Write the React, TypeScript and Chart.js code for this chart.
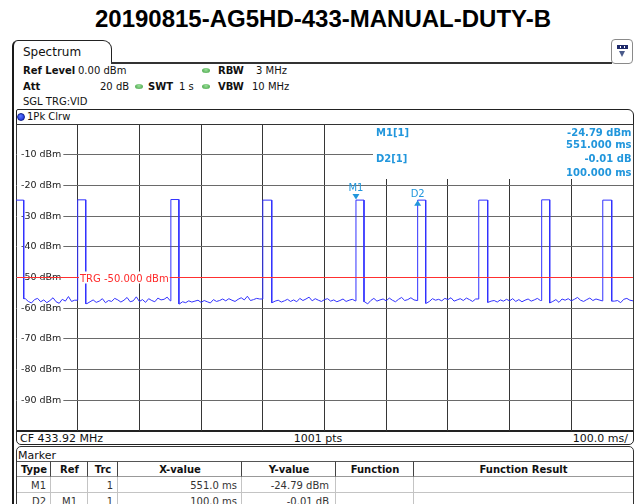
import React, { useEffect, useRef } from "react";
import { Chart, registerables } from "chart.js";

Chart.register(...registerables);

// ---------------- data ----------------
const TITLE = "20190815-AG5HD-433-MANUAL-DUTY-B";
const SWEEP_START_MS = 0;
const SWEEP_END_MS = 1000;
const MS_PER_DIV = 100;
const REF_LEVEL_DBM = 0;
const BOTTOM_DBM = -100;
const DB_PER_DIV = 10;
const TRG_LEVEL_DBM = -50;

const pulseStartMs = [0, 100, 251, 400, 551, 651, 750, 852, 951];
const pulseEndMs = [12.5, 113, 264, 414.5, 564, 664, 764.5, 865, 965.5];
const pulseTopDbm = [-24.8, -24.7, -24.6, -24.8, -24.79, -24.8, -24.8, -24.7, -24.8];

const NOISE_STEP_MS = 5;
const noiseDbm = [
  -57.6, -58.1, -57.4, -56.9, -57.8, -58.3, -57.2, -56.8, -57.9, -57.3,
  -58.2, -57.5, -56.6, -57.9, -58.4, -57.1, -57.7, -56.2, -57.8, -57.4,
  -58.0, -57.6, -57.2, -58.5, -57.9, -57.3, -58.1, -57.7, -56.9, -58.2,
  -57.5, -57.8, -56.8, -57.3, -58.0, -57.4, -56.5, -57.9, -57.6, -56.3,
  -57.8, -57.2, -58.1, -56.9, -57.5, -57.9, -56.7, -57.3, -57.1, -56.4,
  -57.6, -58.3, -57.8, -58.6, -57.9, -58.2, -57.6, -58.0, -57.7, -57.4,
  -58.1, -57.5, -57.9, -58.3, -57.2, -57.8, -57.5, -57.0, -57.6, -56.9,
  -57.4, -57.8, -57.1, -56.6, -57.3, -56.1, -57.5, -57.2, -56.8, -57.0,
  -57.5, -57.9, -57.3, -58.2, -57.7, -57.4, -58.0, -57.6, -57.1, -57.8,
  -57.3, -57.9, -56.8, -57.5, -57.0, -56.4, -57.6, -56.9, -57.4, -57.8,
  -57.2, -56.9, -57.7, -57.3, -57.9, -57.5, -57.0, -57.8, -57.4, -57.1,
  -57.6, -58.0, -57.4, -57.9, -58.6, -57.5, -56.8, -57.7, -57.3, -57.0,
  -57.6, -56.7, -57.4, -57.9, -57.1, -56.5, -57.5, -57.2, -56.6, -57.3,
  -57.5, -57.9, -57.3, -58.4, -57.8, -56.9, -57.4, -57.1, -57.6, -56.8,
  -57.2, -56.6, -57.7, -57.3, -56.9, -57.5, -56.7, -57.2, -57.8, -57.0,
  -57.4, -57.9, -57.2, -58.1, -57.7, -57.5, -58.0, -57.3, -57.7, -57.1,
  -57.6, -56.9, -57.8, -57.2, -57.9, -57.4, -57.0, -57.7, -57.3, -56.8,
  -57.5, -58.0, -57.4, -58.3, -57.8, -57.2, -58.1, -57.0, -57.4, -56.9,
  -57.6, -57.1, -56.5, -57.4, -57.8, -57.2, -56.7, -57.5, -57.0, -57.3,
  -57.6, -58.1, -57.3, -58.0, -57.7, -57.5, -58.2, -57.1, -56.8, -57.4,
  -57.6,
];

const markerNames = ["M1", "D2"];
const markerKinds = ["normal", "delta"];
const markerXms = [551, 651];
const markerYdbm = [-24.79, -24.8];

const readoutNames = ["M1[1]", "D2[1]"];
const readoutLevel = ["-24.79 dBm", "-0.01 dB"];
const readoutTime = ["551.000 ms", "100.000 ms"];

const tableHeaders = ["Type", "Ref", "Trc", "X-value", "Y-value", "Function", "Function Result"];
const tableType = ["M1", "D2"];
const tableRef = ["", "M1"];
const tableTrc = ["1", "1"];
const tableX = ["551.0 ms", "100.0 ms"];
const tableY = ["-24.79 dBm", "-0.01 dB"];

// ---------------- styling ----------------
const FONT = "DejaVu Sans";
const CYAN = "#2196dc";
const TRACE = "#3232ff";

function buildTrace() {
  const pts: { x: number; y: number }[] = [];
  let p = 0;
  for (let i = 0; i < noiseDbm.length; i++) {
    const t = SWEEP_START_MS + i * NOISE_STEP_MS;
    while (p < pulseStartMs.length && pulseStartMs[p] <= t) {
      const s = pulseStartMs[p];
      const e = pulseEndMs[p];
      const lv = pulseTopDbm[p];
      if (pts.length) pts.push({ x: s, y: pts[pts.length - 1].y });
      pts.push({ x: s, y: lv });
      pts.push({ x: e, y: lv });
      const nextIdx = Math.ceil((e - SWEEP_START_MS) / NOISE_STEP_MS);
      if (nextIdx < noiseDbm.length) pts.push({ x: e, y: noiseDbm[nextIdx] });
      p++;
    }
    const inside = pulseStartMs.some((s, k) => t >= s && t <= pulseEndMs[k]);
    if (!inside) pts.push({ x: t, y: noiseDbm[i] });
  }
  return pts;
}

const overlayPlugin = {
  id: "overlay",
  beforeDatasetsDraw(chart: any) {
    const { ctx, chartArea: a } = chart;
    ctx.save();
    const bx = a.right - 260;
    ctx.fillStyle = "#fff";
    ctx.fillRect(bx, a.top + 1, a.right - bx, 54);
    ctx.fillStyle = CYAN;
    ctx.font = `bold 10px "${FONT}"`;
    ctx.textBaseline = "alphabetic";
    const base = [a.top + 12, a.top + 24, a.top + 38, a.top + 52];
    readoutNames.forEach((n, i) => {
      ctx.textAlign = "left";
      ctx.fillText(n, bx + 3, base[i * 2]);
      ctx.textAlign = "right";
      ctx.fillText(readoutLevel[i], a.right - 1.5, base[i * 2]);
      ctx.fillText(readoutTime[i], a.right - 1.5, base[i * 2 + 1]);
    });
    ctx.restore();
  },
  afterDatasetsDraw(chart: any) {
    const { ctx, chartArea: a, scales } = chart;
    const x = scales.x;
    const y = scales.y;
    ctx.save();
    const ty = Math.floor(y.getPixelForValue(TRG_LEVEL_DBM)) + 0.5;
    ctx.strokeStyle = "#ff3030";
    ctx.lineWidth = 1;
    ctx.beginPath();
    ctx.moveTo(a.left + 1, ty);
    ctx.lineTo(a.right, ty);
    ctx.stroke();
    ctx.font = `10px "${FONT}"`;
    const label = `TRG ${TRG_LEVEL_DBM.toFixed(3)} dBm`;
    const tx = a.left + 64;
    const w = ctx.measureText(label).width;
    ctx.fillStyle = "#fff";
    ctx.fillRect(tx - 1, ty - 6, w + 2, 12);
    ctx.fillStyle = "#ff2a2a";
    ctx.textAlign = "left";
    ctx.textBaseline = "alphabetic";
    ctx.fillText(label, tx, ty + 4);

    markerNames.forEach((n, i) => {
      const px = x.getPixelForValue(markerXms[i]);
      const py = y.getPixelForValue(markerYdbm[i]);
      ctx.fillStyle = CYAN;
      ctx.beginPath();
      if (markerKinds[i] === "normal") {
        ctx.moveTo(px - 3.5, py - 6);
        ctx.lineTo(px + 3.5, py - 6);
        ctx.lineTo(px, py - 0.5);
      } else {
        ctx.moveTo(px - 3.5, py + 5.5);
        ctx.lineTo(px + 3.5, py + 5.5);
        ctx.lineTo(px, py);
      }
      ctx.closePath();
      ctx.fill();
      ctx.font = `10px "${FONT}"`;
      ctx.textAlign = "center";
      ctx.fillText(n, px, markerKinds[i] === "normal" ? py - 9.3 : py - 3.5);
    });
    ctx.restore();
  },
};

function T(props: any) {
  const { x, y, s = 10, b = false, c = "#111", align = "left", ff = FONT, children } = props;
  const style: any = {
    position: "absolute",
    top: y - 0.846 * s,
    fontSize: s,
    lineHeight: `${s}px`,
    fontFamily: ff,
    fontWeight: b ? "bold" : "normal",
    color: c,
    whiteSpace: "nowrap",
  };
  if (align === "left") style.left = x;
  else if (align === "right") style.right = 636 - x;
  else {
    style.left = x;
    style.transform = "translateX(-50%)";
  }
  return <div style={style}>{children}</div>;
}

const box = (o: any): any => ({ position: "absolute", boxSizing: "border-box", ...o });

function Dot({ cx, cy }: { cx: number; cy: number }) {
  return (
    <div
      style={box({
        left: cx - 4,
        top: cy - 2.5,
        width: 8,
        height: 5,
        borderRadius: "50%",
        background: "radial-gradient(circle at 50% 35%, #9be09b, #3f9e3f)",
      })}
    />
  );
}

const colEdges = [17, 51, 88, 118, 242, 336, 414, 633];

export default function App() {
  const ref = useRef<HTMLCanvasElement | null>(null);

  useEffect(() => {
    if (!ref.current) return;
    const chart = new Chart(ref.current, {
      type: "line",
      data: {
        datasets: [
          {
            data: buildTrace(),
            borderColor: TRACE,
            borderWidth: 1,
            pointRadius: 0,
            tension: 0,
            fill: false,
          },
        ],
      },
      options: {
        animation: false,
        responsive: false,
        devicePixelRatio: 1,
        events: [],
        layout: { padding: { left: 16, top: 124, right: 3, bottom: 73 } },
        plugins: { legend: { display: false }, tooltip: { enabled: false } },
        scales: {
          x: {
            type: "linear",
            min: SWEEP_START_MS,
            max: SWEEP_END_MS,
            ticks: { stepSize: MS_PER_DIV, display: false },
            grid: { color: "#363636", drawTicks: false, lineWidth: 1 },
            border: { display: false },
            afterFit: (s: any) => {
              s.height = 0;
            },
          },
          y: {
            type: "linear",
            min: BOTTOM_DBM,
            max: REF_LEVEL_DBM,
            afterBuildTicks: (s: any) => {
              s.ticks = s.ticks.filter((t: any) => t.value > BOTTOM_DBM && t.value < REF_LEVEL_DBM);
            },
            ticks: {
              stepSize: DB_PER_DIV,
              mirror: true,
              padding: 5,
              color: "#1a1a1a",
              font: { family: FONT, size: 9.5 },
              showLabelBackdrop: true,
              backdropColor: "#ffffff",
              backdropPadding: { left: 4, right: 2, top: 0, bottom: 0 },
              callback: (v: any) => `${v} dBm`,
            },
            grid: { color: "#6a6a6a", drawTicks: false, lineWidth: 1 },
            border: { display: false },
            afterFit: (s: any) => {
              s.width = 0;
            },
          },
        },
      } as any,
      plugins: [overlayPlugin],
    });
    return () => chart.destroy();
  }, []);

  return (
    <div
      style={{
        position: "fixed",
        left: 0,
        top: 0,
        width: 636,
        height: 504,
        background: "#fff",
        overflow: "hidden",
        fontFamily: FONT,
      }}
    >
      {/* title */}
      <div
        style={box({
          left: 5,
          top: 27 - 0.846 * 24,
          width: 636,
          textAlign: "center",
          fontFamily: "Liberation Sans, Arial, sans-serif",
          fontWeight: "bold",
          fontSize: 24,
          lineHeight: "24px",
          color: "#000",
          whiteSpace: "nowrap",
        })}
      >
        {TITLE}
      </div>

      {/* tab + header frame */}
      <div
        style={box({
          left: 12,
          top: 40,
          width: 100,
          height: 24,
          borderTop: "1.5px solid #222",
          borderLeft: "2px solid #1a1a1a",
          borderRight: "1.5px solid #222",
          borderRadius: "6px 9px 0 0",
        })}
      />
      <div style={box({ left: 111, top: 62, width: 501, height: 1.5, background: "#333" })} />
      <div style={box({ left: 12, top: 48, width: 2, height: 460, background: "#1a1a1a" })} />
      <T x={23} y={56} s={12}>Spectrum</T>

      {/* icon */}
      <div
        style={box({
          left: 611,
          top: 39,
          width: 22,
          height: 25,
          border: "1px solid #8a8a8a",
          borderRadius: 4,
          background: "#fff",
        })}
      />
      <div style={box({ left: 617, top: 45, width: 11, height: 4, background: "#1f2a6a" })} />
      <div style={box({ left: 620, top: 46, width: 1, height: 2, background: "#fff" })} />
      <div style={box({ left: 624, top: 46, width: 1, height: 2, background: "#fff" })} />
      <div
        style={box({
          left: 619,
          top: 51,
          width: 0,
          height: 0,
          borderLeft: "3.5px solid transparent",
          borderRight: "3.5px solid transparent",
          borderTop: "6px solid #4a5a8a",
        })}
      />

      {/* settings */}
      <T x={23} y={74.3} b>Ref Level</T>
      <T x={78} y={74.3}>0.00 dBm</T>
      <Dot cx={206} cy={70.8} />
      <T x={218} y={74.3} b>RBW</T>
      <T x={256} y={74.3}>3 MHz</T>

      <T x={23} y={90.3} b>Att</T>
      <T x={100} y={90.3}>20 dB</T>
      <Dot cx={139} cy={86.6} />
      <T x={148} y={90.3} b>SWT</T>
      <T x={179} y={90.3}>1 s</T>
      <Dot cx={206} cy={86.6} />
      <T x={218} y={90.3} b>VBW</T>
      <T x={252} y={90.3}>10 MHz</T>

      <T x={23} y={105.3}>SGL TRG:VID</T>

      {/* trace window frame */}
      <div
        style={box({
          left: 16,
          top: 109,
          width: 618,
          height: 336,
          border: "1px solid #222",
          borderRadius: "2px 6px 5px 5px",
        })}
      />
      <div style={box({ left: 16, top: 124, width: 618, height: 1, background: "#333" })} />
      <div style={box({ left: 16, top: 430, width: 618, height: 1.5, background: "#222" })} />
      <div
        style={box({
          left: 17,
          top: 112.5,
          width: 8,
          height: 8,
          borderRadius: "50%",
          background: "radial-gradient(circle at 40% 35%, #5a78ff, #1020d0)",
          border: "1px solid #10208a",
        })}
      />
      <T x={27} y={120}>1Pk Clrw</T>

      <T x={20} y={442.3} s={11}>CF 433.92 MHz</T>
      <T x={318} y={442.3} s={11} align="center">1001 pts</T>
      <T x={628} y={442.3} s={11} align="right">100.0 ms/</T>

      {/* marker table */}
      <div
        style={box({
          left: 16,
          top: 446,
          width: 618,
          height: 80,
          border: "1px solid #333",
          borderRadius: "5px 5px 0 0",
        })}
      />
      <T x={18} y={459.5} s={11}>Marker</T>
      {tableHeaders.map((h, i) => (
        <div
          key={"h" + i}
          style={box({
            left: colEdges[i],
            top: 461,
            width: colEdges[i + 1] - colEdges[i],
            height: 16,
            borderTop: "1px solid #555",
            borderBottom: "1px solid #999",
            borderRight: i < tableHeaders.length - 1 ? "1px solid #444" : "none",
          })}
        />
      ))}
      {tableHeaders.map((h, i) => (
        <T key={"ht" + i} x={(colEdges[i] + colEdges[i + 1]) / 2} y={473} b align="center" c="#111">
          {h}
        </T>
      ))}
      {tableType.map((_, r) =>
        tableHeaders.map((__, i) => (
          <div
            key={"c" + r + "-" + i}
            style={box({
              left: colEdges[i],
              top: 477 + r * 16,
              width: colEdges[i + 1] - colEdges[i],
              height: 16,
              borderBottom: "1px solid #c4c4c4",
              borderRight: i < tableHeaders.length - 1 ? "1px solid #c4c4c4" : "none",
            })}
          />
        ))
      )}
      {tableType.map((t, r) => {
        const by = 489.3 + r * 16;
        return (
          <React.Fragment key={"r" + r}>
            <T x={colEdges[1] - 5} y={by} align="right" c="#333">{t}</T>
            <T x={(colEdges[1] + colEdges[2]) / 2} y={by} align="center" c="#333">{tableRef[r]}</T>
            <T x={colEdges[3] - 5} y={by} align="right" c="#333">{tableTrc[r]}</T>
            <T x={colEdges[4] - 5} y={by} align="right" c="#333">{tableX[r]}</T>
            <T x={colEdges[5] - 7} y={by} align="right" c="#333">{tableY[r]}</T>
          </React.Fragment>
        );
      })}

      {/* plot */}
      <canvas
        ref={ref}
        width={636}
        height={504}
        style={{ position: "absolute", left: 0, top: 0, width: 636, height: 504, pointerEvents: "none" }}
      />
    </div>
  );
}
